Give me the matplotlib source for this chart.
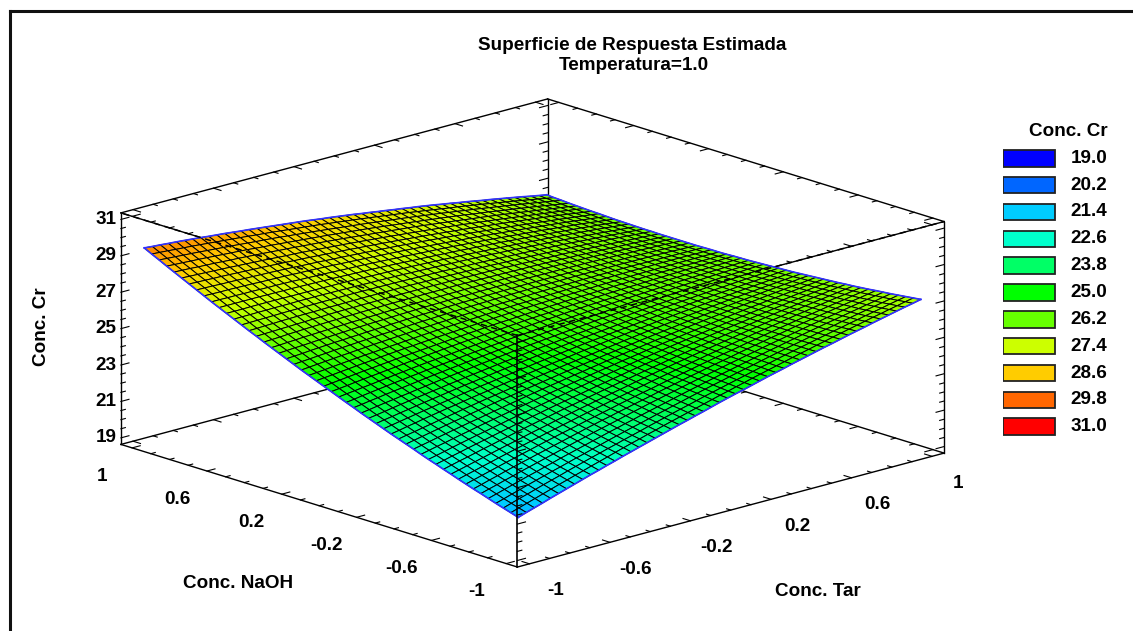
import numpy as np
import matplotlib
matplotlib.use("Agg")
import matplotlib.pyplot as plt
from matplotlib.colors import LinearSegmentedColormap
from matplotlib.lines import Line2D
from mpl_toolkits.mplot3d import proj3d

plt.rcParams['font.family'] = ['Liberation Sans', 'DejaVu Sans']
plt.rcParams['font.weight'] = 'bold'

W, H = 1133, 631

legend_levels = [19.0, 20.2, 21.4, 22.6, 23.8, 25.0, 26.2, 27.4, 28.6, 29.8, 31.0]
legend_colors = ['#0000ff', '#0066ff', '#00ccff', '#00ffcc', '#00ff66', '#00ff00',
                 '#66ff00', '#ccff00', '#ffcc00', '#ff6600', '#ff0000']
naoh_ticks = [-1, -0.6, -0.2, 0.2, 0.6, 1]
tar_ticks = [-1, -0.6, -0.2, 0.2, 0.6, 1]
cr_ticks = [19, 21, 23, 25, 27, 29, 31]

# mesh lines of the surface, 50 cells per side
naoh_grid = np.arange(-25, 26) / 25
tar_grid = np.arange(-25, 26) / 25

# Conc. Cr: one row per NaOH line (-1 -> 1), one column per Tar line (-1 -> 1)
conc_cr = [
[21.00,21.15,21.29,21.43,21.58, 21.72,21.86,22.00,22.14,22.28, 22.41,22.55,22.68,22.82,22.95, 23.08,23.21,23.34,23.47,23.60, 23.73,23.85,23.98,24.10,24.23, 24.36,24.48,24.60,24.71,24.83, 24.95,25.07,25.18,25.29,25.41, 25.52,25.63,25.74,25.85,25.95, 26.06,26.17,26.27,26.37,26.48, 26.58,26.68,26.78,26.88,26.97, 27.07],
[21.13,21.27,21.41,21.55,21.69, 21.83,21.97,22.10,22.24,22.37, 22.51,22.64,22.77,22.91,23.04, 23.17,23.29,23.42,23.54,23.67, 23.79,23.91,24.03,24.15,24.27, 24.39,24.51,24.62,24.74,24.85, 24.97,25.08,25.19,25.30,25.41, 25.52,25.63,25.73,25.84,25.94, 26.05,26.15,26.25,26.35,26.45, 26.55,26.64,26.74,26.83,26.93, 27.02],
[21.26,21.40,21.54,21.67,21.81, 21.95,22.08,22.21,22.35,22.48, 22.61,22.74,22.86,22.99,23.11, 23.24,23.36,23.48,23.61,23.73, 23.85,23.97,24.09,24.20,24.32, 24.44,24.55,24.66,24.77,24.88, 24.99,25.10,25.21,25.31,25.42, 25.53,25.63,25.73,25.83,25.93, 26.03,26.13,26.22,26.32,26.41, 26.51,26.60,26.69,26.79,26.88, 26.97],
[21.39,21.52,21.66,21.79,21.93, 22.06,22.19,22.32,22.44,22.57, 22.70,22.82,22.95,23.07,23.20, 23.32,23.44,23.56,23.67,23.79, 23.91,24.02,24.14,24.25,24.37, 24.48,24.59,24.70,24.80,24.91, 25.02,25.12,25.22,25.33,25.43, 25.53,25.63,25.73,25.82,25.92, 26.02,26.11,26.20,26.30,26.39, 26.48,26.57,26.66,26.74,26.83, 26.92],
[21.53,21.66,21.79,21.92,22.05, 22.18,22.30,22.43,22.55,22.68, 22.80,22.92,23.04,23.16,23.28, 23.40,23.51,23.63,23.74,23.86, 23.97,24.08,24.19,24.30,24.41, 24.52,24.62,24.73,24.83,24.94, 25.04,25.14,25.24,25.34,25.44, 25.54,25.63,25.73,25.82,25.92, 26.01,26.10,26.19,26.27,26.36, 26.45,26.53,26.62,26.70,26.79, 26.87],
[21.67,21.80,21.92,22.05,22.17, 22.30,22.42,22.54,22.66,22.78, 22.90,23.02,23.14,23.25,23.37, 23.48,23.59,23.70,23.82,23.93, 24.04,24.15,24.25,24.36,24.46, 24.57,24.67,24.77,24.87,24.97, 25.07,25.17,25.26,25.36,25.45, 25.55,25.64,25.73,25.82,25.91, 26.00,26.09,26.17,26.26,26.34, 26.43,26.51,26.59,26.67,26.75, 26.83],
[21.80,21.92,22.05,22.17,22.30, 22.42,22.54,22.65,22.77,22.88, 23.00,23.11,23.23,23.34,23.46, 23.57,23.68,23.78,23.89,23.99, 24.10,24.20,24.30,24.41,24.51, 24.61,24.71,24.81,24.90,25.00, 25.10,25.19,25.28,25.38,25.47, 25.56,25.65,25.74,25.82,25.91, 26.00,26.08,26.16,26.24,26.32, 26.40,26.48,26.56,26.63,26.71, 26.79],
[21.94,22.06,22.18,22.30,22.42, 22.54,22.65,22.77,22.88,23.00, 23.11,23.22,23.33,23.43,23.54, 23.65,23.75,23.86,23.96,24.07, 24.17,24.27,24.37,24.46,24.56, 24.66,24.75,24.85,24.94,25.04, 25.13,25.22,25.31,25.39,25.48, 25.57,25.65,25.74,25.82,25.91, 25.99,26.07,26.15,26.22,26.30, 26.38,26.45,26.52,26.60,26.67, 26.74],
[22.08,22.20,22.31,22.43,22.54, 22.66,22.77,22.88,22.99,23.10, 23.21,23.32,23.42,23.53,23.63, 23.74,23.84,23.94,24.04,24.14, 24.24,24.33,24.43,24.52,24.62, 24.71,24.80,24.89,24.98,25.07, 25.16,25.25,25.33,25.42,25.50, 25.59,25.67,25.75,25.82,25.90, 25.98,26.06,26.14,26.21,26.29, 26.36,26.43,26.50,26.56,26.63, 26.70],
[22.23,22.34,22.45,22.56,22.67, 22.78,22.89,23.00,23.10,23.21, 23.32,23.42,23.52,23.63,23.73, 23.83,23.93,24.02,24.12,24.21, 24.31,24.40,24.49,24.59,24.68, 24.77,24.86,24.94,25.03,25.11, 25.20,25.28,25.36,25.44,25.52, 25.60,25.68,25.76,25.83,25.91, 25.98,26.05,26.13,26.20,26.27, 26.34,26.40,26.47,26.53,26.60, 26.66],
[22.37,22.48,22.59,22.69,22.80, 22.91,23.01,23.12,23.22,23.33, 23.43,23.53,23.63,23.72,23.82, 23.92,24.01,24.10,24.20,24.29, 24.38,24.47,24.56,24.64,24.73, 24.82,24.90,24.98,25.07,25.15, 25.23,25.31,25.39,25.46,25.54, 25.62,25.69,25.76,25.84,25.91, 25.98,26.05,26.12,26.18,26.25, 26.32,26.38,26.44,26.51,26.57, 26.63],
[22.52,22.62,22.73,22.83,22.94, 23.04,23.14,23.24,23.34,23.44, 23.54,23.63,23.73,23.82,23.92, 24.01,24.10,24.19,24.27,24.36, 24.45,24.53,24.62,24.70,24.79, 24.87,24.95,25.03,25.11,25.19, 25.27,25.34,25.42,25.49,25.57, 25.64,25.71,25.78,25.84,25.91, 25.98,26.04,26.11,26.17,26.24, 26.30,26.36,26.42,26.47,26.53, 26.59],
[22.66,22.76,22.86,22.97,23.07, 23.17,23.27,23.36,23.46,23.55, 23.65,23.74,23.83,23.92,24.01, 24.10,24.19,24.27,24.36,24.44, 24.53,24.61,24.69,24.77,24.85, 24.93,25.01,25.08,25.16,25.23, 25.31,25.38,25.45,25.52,25.59, 25.66,25.72,25.79,25.85,25.92, 25.98,26.04,26.10,26.16,26.22, 26.28,26.34,26.39,26.45,26.50, 26.56],
[22.81,22.91,23.01,23.10,23.20, 23.30,23.39,23.49,23.58,23.67, 23.76,23.85,23.94,24.02,24.11, 24.20,24.28,24.36,24.44,24.52, 24.60,24.68,24.76,24.83,24.91, 24.99,25.06,25.13,25.21,25.28, 25.35,25.42,25.48,25.55,25.61, 25.68,25.74,25.80,25.87,25.93, 25.99,26.05,26.10,26.16,26.21, 26.27,26.32,26.37,26.43,26.48, 26.53],
[22.97,23.06,23.15,23.25,23.34, 23.43,23.52,23.61,23.69,23.78, 23.87,23.95,24.04,24.12,24.21, 24.29,24.37,24.45,24.52,24.60, 24.68,24.75,24.83,24.90,24.98, 25.05,25.12,25.19,25.25,25.32, 25.39,25.45,25.52,25.58,25.65, 25.71,25.77,25.83,25.88,25.94, 26.00,26.05,26.10,26.16,26.21, 26.26,26.31,26.36,26.40,26.45, 26.50],
[23.12,23.21,23.30,23.39,23.48, 23.57,23.66,23.74,23.83,23.91, 24.00,24.08,24.16,24.23,24.31, 24.39,24.46,24.54,24.61,24.69, 24.76,24.83,24.90,24.97,25.04, 25.11,25.17,25.24,25.30,25.37, 25.43,25.49,25.55,25.61,25.67, 25.73,25.78,25.84,25.89,25.95, 26.00,26.05,26.10,26.15,26.20, 26.25,26.29,26.34,26.38,26.43, 26.47],
[23.27,23.36,23.44,23.53,23.61, 23.70,23.78,23.86,23.95,24.03, 24.11,24.19,24.26,24.34,24.41, 24.49,24.56,24.63,24.70,24.77, 24.84,24.91,24.97,25.04,25.10, 25.17,25.23,25.29,25.36,25.42, 25.48,25.54,25.59,25.65,25.70, 25.76,25.81,25.86,25.91,25.96, 26.01,26.06,26.10,26.15,26.19, 26.24,26.28,26.32,26.36,26.40, 26.44],
[23.42,23.50,23.59,23.67,23.76, 23.84,23.92,24.00,24.07,24.15, 24.23,24.30,24.37,24.45,24.52, 24.59,24.66,24.73,24.79,24.86, 24.93,24.99,25.05,25.12,25.18, 25.24,25.30,25.36,25.41,25.47, 25.53,25.58,25.63,25.69,25.74, 25.79,25.84,25.88,25.93,25.97, 26.02,26.06,26.10,26.15,26.19, 26.23,26.27,26.31,26.34,26.38, 26.41],
[23.58,23.66,23.74,23.82,23.90, 23.98,24.05,24.13,24.20,24.28, 24.35,24.42,24.49,24.55,24.62, 24.69,24.75,24.82,24.88,24.95, 25.01,25.07,25.13,25.19,25.25, 25.31,25.36,25.41,25.47,25.52, 25.57,25.62,25.67,25.72,25.77, 25.82,25.86,25.90,25.95,25.99, 26.03,26.07,26.11,26.14,26.18, 26.22,26.25,26.29,26.32,26.36, 26.39],
[23.74,23.82,23.89,23.97,24.04, 24.12,24.19,24.26,24.33,24.40, 24.47,24.54,24.60,24.67,24.73, 24.80,24.86,24.92,24.98,25.04, 25.10,25.15,25.21,25.26,25.32, 25.37,25.42,25.47,25.52,25.57, 25.62,25.67,25.72,25.76,25.81, 25.85,25.89,25.93,25.97,26.01, 26.05,26.08,26.12,26.15,26.19, 26.22,26.25,26.28,26.31,26.34, 26.37],
[23.90,23.97,24.04,24.12,24.19, 24.26,24.33,24.39,24.46,24.52, 24.59,24.65,24.72,24.78,24.84, 24.90,24.96,25.02,25.07,25.13, 25.19,25.24,25.29,25.34,25.39, 25.44,25.49,25.53,25.58,25.62, 25.67,25.71,25.75,25.80,25.84, 25.88,25.92,25.95,25.99,26.02, 26.06,26.09,26.12,26.16,26.19, 26.22,26.25,26.28,26.30,26.33, 26.35],
[24.06,24.13,24.20,24.27,24.33, 24.40,24.46,24.53,24.59,24.66, 24.72,24.78,24.84,24.89,24.95, 25.01,25.06,25.12,25.17,25.23, 25.28,25.33,25.37,25.42,25.46, 25.51,25.55,25.60,25.64,25.69, 25.73,25.77,25.81,25.84,25.88, 25.92,25.95,25.98,26.02,26.05, 26.08,26.11,26.14,26.16,26.19, 26.22,26.24,26.26,26.29,26.31, 26.33],
[24.23,24.29,24.36,24.42,24.49, 24.55,24.61,24.67,24.73,24.79, 24.85,24.90,24.96,25.01,25.07, 25.12,25.17,25.22,25.27,25.32, 25.37,25.41,25.46,25.50,25.55, 25.59,25.63,25.67,25.70,25.74, 25.78,25.81,25.85,25.88,25.92, 25.95,25.98,26.01,26.04,26.07, 26.10,26.12,26.15,26.17,26.20, 26.22,26.24,26.26,26.27,26.29, 26.31],
[24.39,24.45,24.52,24.58,24.64, 24.70,24.76,24.81,24.87,24.92, 24.98,25.03,25.08,25.13,25.18, 25.23,25.28,25.32,25.37,25.41, 25.46,25.50,25.54,25.58,25.62, 25.66,25.70,25.73,25.77,25.80, 25.84,25.87,25.90,25.93,25.96, 25.99,26.02,26.04,26.07,26.09, 26.12,26.14,26.16,26.18,26.20, 26.22,26.23,26.25,26.26,26.28, 26.29],
[24.56,24.62,24.67,24.73,24.78, 24.84,24.89,24.95,25.00,25.06, 25.11,25.16,25.20,25.25,25.29, 25.34,25.38,25.42,25.47,25.51, 25.55,25.59,25.63,25.66,25.70, 25.74,25.77,25.80,25.84,25.87, 25.90,25.93,25.95,25.98,26.00, 26.03,26.05,26.07,26.10,26.12, 26.14,26.16,26.17,26.19,26.20, 26.22,26.23,26.25,26.26,26.27, 26.28],
[24.73,24.78,24.83,24.89,24.94, 24.99,25.04,25.09,25.14,25.19, 25.24,25.28,25.33,25.37,25.42, 25.46,25.50,25.54,25.57,25.61, 25.65,25.68,25.72,25.75,25.79, 25.82,25.85,25.87,25.90,25.93, 25.96,25.98,26.00,26.03,26.05, 26.07,26.09,26.11,26.12,26.14, 26.16,26.17,26.19,26.20,26.22, 26.23,26.24,26.25,26.25,26.26, 26.27],
[24.90,24.95,25.00,25.05,25.10, 25.15,25.19,25.24,25.28,25.33, 25.37,25.41,25.45,25.49,25.53, 25.57,25.61,25.64,25.68,25.71, 25.75,25.78,25.81,25.83,25.86, 25.89,25.92,25.94,25.97,25.99, 26.02,26.04,26.06,26.07,26.09, 26.11,26.13,26.14,26.16,26.17, 26.19,26.20,26.21,26.21,26.22, 26.23,26.23,26.24,26.24,26.25, 26.25],
[25.07,25.12,25.16,25.21,25.25, 25.30,25.34,25.38,25.43,25.47, 25.51,25.55,25.58,25.62,25.65, 25.69,25.72,25.75,25.78,25.81, 25.84,25.87,25.90,25.93,25.95, 25.98,26.00,26.02,26.04,26.06, 26.08,26.10,26.11,26.13,26.14, 26.16,26.17,26.18,26.19,26.20, 26.21,26.22,26.22,26.23,26.23, 26.24,26.24,26.24,26.24,26.24, 26.24],
[25.24,25.28,25.32,25.37,25.41, 25.45,25.49,25.53,25.56,25.60, 25.64,25.67,25.71,25.74,25.78, 25.81,25.84,25.86,25.89,25.91, 25.94,25.96,25.99,26.01,26.04, 26.06,26.08,26.09,26.11,26.12, 26.14,26.15,26.17,26.18,26.20, 26.21,26.22,26.22,26.23,26.23, 26.24,26.24,26.24,26.25,26.25, 26.25,26.25,26.25,26.24,26.24, 26.24],
[25.41,25.45,25.49,25.53,25.57, 25.61,25.64,25.68,25.71,25.75, 25.78,25.81,25.84,25.87,25.90, 25.93,25.95,25.98,26.00,26.03, 26.05,26.07,26.09,26.10,26.12, 26.14,26.15,26.17,26.18,26.20, 26.21,26.22,26.23,26.23,26.24, 26.25,26.25,26.26,26.26,26.27, 26.27,26.27,26.27,26.26,26.26, 26.26,26.25,26.25,26.24,26.24, 26.23],
[25.59,25.63,25.66,25.70,25.73, 25.77,25.80,25.83,25.86,25.89, 25.92,25.95,25.97,26.00,26.02, 26.05,26.07,26.09,26.11,26.13, 26.15,26.17,26.18,26.20,26.21, 26.23,26.24,26.25,26.26,26.27, 26.28,26.28,26.29,26.29,26.30, 26.30,26.30,26.30,26.30,26.30, 26.30,26.30,26.29,26.29,26.28, 26.28,26.27,26.26,26.24,26.23, 26.22],
[25.77,25.80,25.83,25.87,25.90, 25.93,25.96,25.98,26.01,26.03, 26.06,26.08,26.10,26.13,26.15, 26.17,26.19,26.21,26.22,26.24, 26.26,26.27,26.28,26.29,26.30, 26.31,26.32,26.33,26.33,26.34, 26.35,26.35,26.35,26.35,26.35, 26.35,26.35,26.34,26.34,26.33, 26.33,26.32,26.31,26.31,26.30, 26.29,26.28,26.26,26.25,26.23, 26.22],
[25.95,25.98,26.01,26.03,26.06, 26.09,26.11,26.14,26.16,26.19, 26.21,26.23,26.25,26.26,26.28, 26.30,26.31,26.33,26.34,26.35, 26.36,26.37,26.38,26.38,26.39, 26.40,26.40,26.41,26.41,26.42, 26.42,26.42,26.42,26.41,26.41, 26.41,26.40,26.39,26.39,26.38, 26.37,26.36,26.35,26.33,26.32, 26.31,26.29,26.28,26.26,26.24, 26.22],
[26.13,26.15,26.18,26.20,26.23, 26.25,26.27,26.29,26.31,26.33, 26.35,26.36,26.38,26.39,26.41, 26.42,26.43,26.44,26.45,26.46, 26.47,26.47,26.48,26.48,26.49, 26.49,26.49,26.49,26.49,26.49, 26.49,26.48,26.48,26.47,26.47, 26.46,26.45,26.44,26.43,26.42, 26.41,26.39,26.37,26.36,26.34, 26.32,26.30,26.28,26.26,26.24, 26.22],
[26.31,26.33,26.35,26.38,26.40, 26.42,26.44,26.45,26.47,26.48, 26.50,26.51,26.52,26.53,26.54, 26.55,26.56,26.56,26.57,26.57, 26.58,26.58,26.58,26.59,26.59, 26.59,26.58,26.58,26.57,26.57, 26.56,26.55,26.54,26.54,26.53, 26.52,26.50,26.49,26.47,26.46, 26.44,26.42,26.40,26.38,26.36, 26.34,26.32,26.29,26.27,26.24, 26.22],
[26.50,26.52,26.53,26.55,26.56, 26.58,26.59,26.61,26.62,26.64, 26.65,26.66,26.66,26.67,26.67, 26.68,26.68,26.68,26.69,26.69, 26.69,26.69,26.69,26.68,26.68, 26.68,26.67,26.66,26.66,26.65, 26.64,26.63,26.61,26.60,26.58, 26.57,26.55,26.53,26.52,26.50, 26.48,26.46,26.43,26.41,26.38, 26.36,26.33,26.30,26.28,26.25, 26.22],
[26.68,26.69,26.71,26.72,26.74, 26.75,26.76,26.77,26.77,26.78, 26.79,26.79,26.80,26.80,26.81, 26.81,26.81,26.81,26.81,26.81, 26.81,26.80,26.79,26.79,26.78, 26.77,26.76,26.75,26.74,26.73, 26.72,26.70,26.68,26.67,26.65, 26.63,26.61,26.59,26.56,26.54, 26.52,26.49,26.47,26.44,26.42, 26.39,26.36,26.33,26.29,26.26, 26.23],
[26.87,26.88,26.89,26.90,26.91, 26.92,26.93,26.93,26.94,26.94, 26.95,26.95,26.95,26.95,26.95, 26.95,26.94,26.94,26.93,26.93, 26.92,26.91,26.90,26.89,26.88, 26.87,26.85,26.84,26.82,26.81, 26.79,26.77,26.75,26.73,26.71, 26.69,26.67,26.64,26.62,26.59, 26.57,26.54,26.50,26.47,26.44, 26.41,26.37,26.34,26.30,26.27, 26.23],
[27.06,27.07,27.07,27.08,27.08, 27.09,27.09,27.09,27.10,27.10, 27.10,27.10,27.09,27.09,27.08, 27.08,27.07,27.06,27.06,27.05, 27.04,27.03,27.01,27.00,26.98, 26.97,26.95,26.93,26.92,26.90, 26.88,26.86,26.84,26.81,26.79, 26.76,26.73,26.70,26.67,26.64, 26.61,26.58,26.54,26.51,26.47, 26.44,26.40,26.36,26.32,26.28, 26.24],
[27.25,27.25,27.25,27.26,27.26, 27.26,27.26,27.26,27.25,27.25, 27.25,27.24,27.24,27.23,27.23, 27.22,27.21,27.20,27.18,27.17, 27.16,27.14,27.12,27.11,27.09, 27.07,27.05,27.03,27.00,26.98, 26.96,26.93,26.90,26.88,26.85, 26.82,26.79,26.76,26.72,26.69, 26.66,26.62,26.58,26.55,26.51, 26.47,26.43,26.39,26.34,26.30, 26.25],
[27.44,27.44,27.44,27.44,27.44, 27.44,27.43,27.43,27.42,27.42, 27.41,27.40,27.39,27.38,27.37, 27.36,27.34,27.33,27.31,27.30, 27.28,27.26,27.24,27.21,27.19, 27.17,27.14,27.12,27.09,27.07, 27.04,27.01,26.98,26.95,26.92, 26.89,26.85,26.81,26.78,26.74, 26.70,26.66,26.62,26.58,26.54, 26.50,26.45,26.41,26.36,26.31, 26.26],
[27.63,27.63,27.62,27.62,27.61, 27.61,27.60,27.59,27.59,27.58, 27.57,27.55,27.54,27.52,27.51, 27.49,27.47,27.45,27.44,27.42, 27.40,27.37,27.35,27.32,27.30, 27.27,27.24,27.21,27.19,27.16, 27.13,27.09,27.06,27.02,26.99, 26.95,26.91,26.87,26.83,26.79, 26.75,26.71,26.66,26.62,26.57, 26.53,26.48,26.43,26.37,26.32, 26.27],
[27.83,27.82,27.81,27.81,27.80, 27.79,27.78,27.76,27.75,27.74, 27.73,27.71,27.69,27.68,27.66, 27.64,27.62,27.59,27.57,27.54, 27.52,27.49,27.46,27.44,27.41, 27.38,27.35,27.31,27.28,27.24, 27.21,27.17,27.13,27.10,27.06, 27.02,26.98,26.93,26.89,26.84, 26.80,26.75,26.70,26.66,26.61, 26.56,26.51,26.45,26.40,26.34, 26.29],
[28.03,28.02,28.01,27.99,27.98, 27.97,27.95,27.94,27.92,27.91, 27.89,27.87,27.85,27.82,27.80, 27.78,27.75,27.72,27.70,27.67, 27.64,27.61,27.58,27.55,27.52, 27.49,27.45,27.41,27.38,27.34, 27.30,27.26,27.22,27.17,27.13, 27.09,27.04,26.99,26.95,26.90, 26.85,26.80,26.75,26.69,26.64, 26.59,26.53,26.48,26.42,26.37, 26.31],
[28.23,28.21,28.20,28.18,28.17, 28.15,28.13,28.11,28.09,28.07, 28.05,28.02,28.00,27.97,27.95, 27.92,27.89,27.86,27.83,27.80, 27.77,27.73,27.70,27.66,27.63, 27.59,27.55,27.51,27.47,27.43, 27.39,27.34,27.30,27.25,27.21, 27.16,27.11,27.06,27.01,26.96, 26.91,26.85,26.80,26.74,26.69, 26.63,26.57,26.51,26.44,26.38, 26.32],
[28.43,28.41,28.39,28.37,28.35, 28.33,28.31,28.28,28.26,28.23, 28.21,28.18,28.15,28.12,28.10, 28.07,28.04,28.00,27.97,27.93, 27.90,27.86,27.82,27.78,27.74, 27.70,27.66,27.61,27.57,27.52, 27.48,27.43,27.38,27.34,27.29, 27.24,27.18,27.13,27.07,27.02, 26.96,26.90,26.84,26.78,26.72, 26.66,26.60,26.54,26.47,26.41, 26.34],
[28.63,28.61,28.59,28.56,28.54, 28.52,28.49,28.46,28.44,28.41, 28.38,28.35,28.32,28.28,28.25, 28.22,28.18,28.14,28.11,28.07, 28.03,27.99,27.94,27.90,27.85, 27.81,27.76,27.72,27.67,27.63, 27.58,27.53,27.47,27.42,27.36, 27.31,27.25,27.19,27.14,27.08, 27.02,26.96,26.89,26.83,26.76, 26.70,26.63,26.56,26.50,26.43, 26.36],
[28.83,28.80,28.78,28.75,28.73, 28.70,28.67,28.64,28.61,28.58, 28.55,28.51,28.47,28.44,28.40, 28.36,28.32,28.28,28.24,28.20, 28.16,28.11,28.07,28.02,27.98, 27.93,27.88,27.83,27.77,27.72, 27.67,27.61,27.56,27.50,27.45, 27.39,27.33,27.27,27.20,27.14, 27.08,27.01,26.94,26.88,26.81, 26.74,26.67,26.60,26.52,26.45, 26.38],
[29.04,29.01,28.98,28.95,28.92, 28.89,28.85,28.82,28.78,28.75, 28.71,28.67,28.63,28.60,28.56, 28.52,28.47,28.43,28.38,28.34, 28.29,28.24,28.19,28.14,28.09, 28.04,27.99,27.93,27.88,27.82, 27.77,27.71,27.65,27.59,27.53, 27.47,27.40,27.34,27.27,27.21, 27.14,27.07,27.00,26.93,26.86, 26.79,26.71,26.64,26.56,26.49, 26.41],
[29.24,29.21,29.18,29.14,29.11, 29.08,29.04,29.00,28.96,28.92, 28.88,28.84,28.80,28.75,28.71, 28.67,28.62,28.57,28.52,28.48, 28.43,28.38,28.32,28.27,28.21, 28.16,28.10,28.04,27.98,27.92, 27.86,27.80,27.74,27.67,27.61, 27.54,27.47,27.40,27.34,27.27, 27.20,27.13,27.05,26.98,26.90, 26.83,26.75,26.67,26.59,26.51, 26.43],
[29.45,29.41,29.38,29.34,29.31, 29.27,29.23,29.19,29.14,29.10, 29.06,29.01,28.96,28.92,28.87, 28.82,28.77,28.72,28.67,28.62, 28.57,28.51,28.45,28.40,28.34, 28.28,28.22,28.15,28.09,28.02, 27.96,27.89,27.83,27.76,27.70, 27.63,27.56,27.48,27.41,27.33, 27.26,27.18,27.10,27.03,26.95, 26.87,26.79,26.71,26.62,26.54, 26.46],
]

lo, hi = -1.06, 1.06
zlo, zhi = 18.64, 31.36

fig = plt.figure(figsize=(W / 100, H / 100), dpi=100, facecolor='white')

# square 3d axes, larger than the figure height, the box is placed with zoom
ax = fig.add_axes([19 / W, -215.5 / H, 1000 / W, 1000 / H], projection='3d', computed_zorder=False)
ax.patch.set_visible(False)
ax.set_axis_off()
ax.set_proj_type('ortho')
ax.view_init(elev=16.7, azim=-132.9)
ax.set_box_aspect((1, 1, 0.415), zoom=0.8334)

cmap = LinearSegmentedColormap.from_list('conc_cr', legend_colors)
T, N = np.meshgrid(tar_grid, naoh_grid)
Z = np.array(conc_cr)
ax.plot_surface(T, N, Z, rstride=1, cstride=1, cmap=cmap, vmin=19, vmax=31, shade=False,
                edgecolor='black', linewidth=0.7, zorder=3)

# blue outline of the surface
blue = '#3232ff'
one = np.ones(len(tar_grid))
ax.plot(tar_grid, naoh_grid[0] * one, Z[0], color=blue, lw=1.2, zorder=4)
ax.plot(tar_grid, naoh_grid[-1] * one, Z[-1], color=blue, lw=1.2, zorder=4)
ax.plot(tar_grid[0] * one, naoh_grid, Z[:, 0], color=blue, lw=1.2, zorder=4)
ax.plot(tar_grid[-1] * one, naoh_grid, Z[:, -1], color=blue, lw=1.2, zorder=4)


def seg(p, q, zorder=1, **kw):
    kw.setdefault('lw', 1.0)
    ax.plot([p[0], q[0]], [p[1], q[1]], [p[2], q[2]], color='black', zorder=zorder, **kw)


def minors(ticks):
    out = []
    for a, b in zip(ticks[:-1], ticks[1:]):
        out += list(np.linspace(a, b, 5)[1:-1])
    return out


# box edges, (tar, naoh, cr)
for z in (zlo, zhi):
    seg((lo, hi, z), (hi, hi, z))
    seg((hi, hi, z), (hi, lo, z))
    seg((lo, lo, z), (lo, hi, z))
    seg((lo, lo, z), (hi, lo, z))
seg((lo, hi, zlo), (lo, hi, zhi))
seg((hi, lo, zlo), (hi, lo, zhi))
seg((hi, hi, zlo), (hi, hi, zhi))
seg((lo, lo, zlo), (lo, lo, zhi), zorder=5, lw=1.2)
# the two top front edges run over the surface
seg((lo, lo, zhi), (lo, hi, zhi), zorder=5, ls=(0, (4, 3)), lw=1.1)
seg((lo, lo, zhi), (hi, lo, zhi), zorder=5, ls=(0, (4, 3)), lw=1.1)

# ticks, all of them point into the face they lie on
for z in (zlo, zhi):
    for n, size in [(v, 0.04) for v in naoh_ticks] + [(v, 0.022) for v in minors(naoh_ticks)]:
        seg((lo, n, z), (lo + size, n, z), lw=0.8)
        seg((hi, n, z), (hi - size, n, z), lw=0.8)
    for t, size in [(v, 0.04) for v in tar_ticks] + [(v, 0.022) for v in minors(tar_ticks)]:
        seg((t, hi, z), (t, hi - size, z), lw=0.8)
        seg((t, lo, z), (t, lo + size, z), lw=0.8)
for c, size in [(v, 0.04) for v in cr_ticks] + [(v, 0.022) for v in minors(cr_ticks)]:
    seg((lo, hi, c), (lo + size, hi, c), lw=0.8)
    seg((lo, lo, c), (lo + size, lo, c), lw=0.8, zorder=5)
    seg((hi, hi, c), (hi - size, hi, c), lw=0.8)
    seg((hi, lo, c), (hi - size, lo, c), lw=0.8)

ax.set_xlim(lo, hi, view_margin=0)
ax.set_ylim(lo, hi, view_margin=0)
ax.set_zlim(zlo, zhi, view_margin=0)

fs = 13.6


def label3d(x, y, z, s):
    # place the tick label through the 3d projection, as a plain 2d text
    x2, y2, _ = proj3d.proj_transform(x, y, z, ax.get_proj())
    ax.text2D(x2, y2, s, transform=ax.transData, fontsize=fs, ha='center', va='center')


for n in naoh_ticks:
    label3d(lo, n + 0.16, 16.57, f"{n:g}")
for t in tar_ticks:
    label3d(t + 0.129, lo, 16.79, f"{t:g}")
for c in cr_ticks:
    label3d(lo - 0.075, hi, c + 0.22, f"{c}")


def px_text(x, y, s, **kw):
    fig.text(x / W, 1 - y / H, s, fontsize=fs, ha='center', va='center', **kw)


px_text(632, 45, "Superficie de Respuesta Estimada")
px_text(634, 65, "Temperatura=1.0")
px_text(238, 583, "Conc. NaOH")
px_text(818, 592, "Conc. Tar")
px_text(42, 327, "Conc. Cr", rotation=90)
px_text(1068, 131, "Conc. Cr")

# legend
ax_leg = fig.add_axes([1003 / W, 1 - 440.1 / H, 104 / W, 295.2 / H])
ax_leg.set_xlim(0, 2)
ax_leg.set_ylim(10.5, -0.5)
ax_leg.axis('off')
ax_leg.barh(range(len(legend_levels)), 1, height=0.62, color=legend_colors, edgecolor='#222222', linewidth=1.3)
for i, v in enumerate(legend_levels):
    ax_leg.text(1.3, i, f"{v:.1f}", fontsize=fs, va='center', ha='left')

# outer frame, only top and left are in the picture
fig.add_artist(Line2D([9.5 / W, 9.5 / W], [0, 1 - 11 / H], color='#111111', lw=2.2))
fig.add_artist(Line2D([9.5 / W, 1], [1 - 11 / H, 1 - 11 / H], color='#111111', lw=2.2))

fig.savefig('out.png', dpi=100)
